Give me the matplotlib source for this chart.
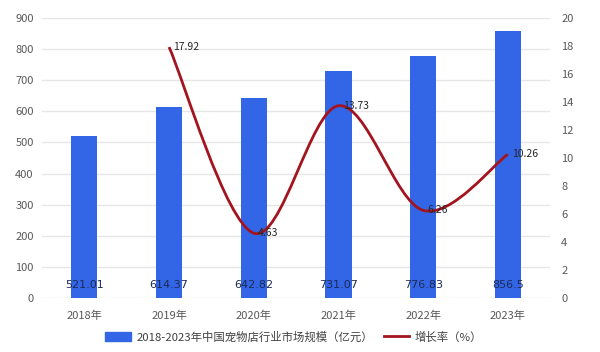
import matplotlib.pyplot as plt
from matplotlib.path import Path
from matplotlib.patches import PathPatch
from matplotlib.lines import Line2D
import numpy as np

plt.rcParams['font.family'] = ['Noto Sans CJK SC', 'DejaVu Sans']

years = ['2018年', '2019年', '2020年', '2021年', '2022年', '2023年']
market = [521.01, 614.37, 642.82, 731.07, 776.83, 856.5]
market_labels = ['521.01', '614.37', '642.82', '731.07', '776.83', '856.5']
growth_years = [1, 2, 3, 4, 5]
growth = [17.92, 4.63, 13.73, 6.26, 10.26]

bar_color = '#3366e6'
line_color = '#a3141e'
tick_color = '#595959'
grid_color = '#e6e6e6'


def smooth_path(xs, ys):
    # Excel-like smoothed line: cubic bezier segments, catmull-rom control points
    pts = np.column_stack([xs, ys]).astype(float)
    n = len(pts)
    verts = [pts[0]]
    codes = [Path.MOVETO]
    for i in range(n - 1):
        p0 = pts[i - 1] if i > 0 else pts[i]
        p1 = pts[i]
        p2 = pts[i + 1]
        p3 = pts[i + 2] if i + 2 < n else pts[i + 1]
        c1 = p1 + (p2 - p0) / 6.0
        c2 = p2 - (p3 - p1) / 6.0
        verts += [c1, c2, p2]
        codes += [Path.CURVE4] * 3
    return Path(verts, codes)


fig = plt.figure(figsize=(6, 3.52), dpi=100)
ax = fig.add_axes([0.07, 0.1534, 0.847, 0.7956])
x = np.arange(len(years))

ax.bar(x, market, width=0.31, color=bar_color, zorder=2)
for xi, lab in zip(x, market_labels):
    ax.text(xi, 42, lab, ha='center', va='center', fontsize=8,
            color='#1c2a55', family=['DejaVu Sans'], zorder=4)

ax.set_ylim(0, 900)
ax.set_yticks(range(0, 901, 100))
ax.set_xlim(-0.5, len(years) - 0.5)
ax.set_xticks(x)
ax.set_xticklabels(years)
ax.grid(axis='y', color=grid_color, linewidth=1, zorder=0)
ax.set_axisbelow(True)
for s in ax.spines.values():
    s.set_visible(False)
ax.tick_params(length=0, colors=tick_color, labelsize=8)
ax.tick_params(axis='x', pad=9)
ax.tick_params(axis='y', pad=6)

ax2 = ax.twinx()
ax2.set_ylim(0, 20)
ax2.set_yticks(range(0, 21, 2))
for s in ax2.spines.values():
    s.set_visible(False)
ax2.tick_params(length=0, colors=tick_color, labelsize=8, pad=8)

patch = PathPatch(smooth_path(growth_years, growth), facecolor='none',
                  edgecolor=line_color, linewidth=2, transform=ax2.transData, zorder=3)
ax2.add_patch(patch)
for gx, gy in zip(growth_years, growth):
    ax2.annotate('{:.2f}'.format(gy), xy=(gx, gy), xytext=(3, 0),
                 textcoords='offset points', ha='left', va='center',
                 fontsize=7.5, color='#262626')

handles = [plt.Rectangle((0, 0), 1, 1, color=bar_color),
           Line2D([0], [0], color=line_color, linewidth=2)]
labels = ['2018-2023年中国宠物店行业市场规模（亿元）', '增长率（%）']
fig.legend(handles, labels, loc='center', bbox_to_anchor=(0.49, 0.043), ncol=2,
           frameon=False, fontsize=8.2, handlelength=2.2, handleheight=0.8,
           handletextpad=0.5, columnspacing=1.0, labelcolor='#404040')

fig.savefig('out.png', dpi=100)
